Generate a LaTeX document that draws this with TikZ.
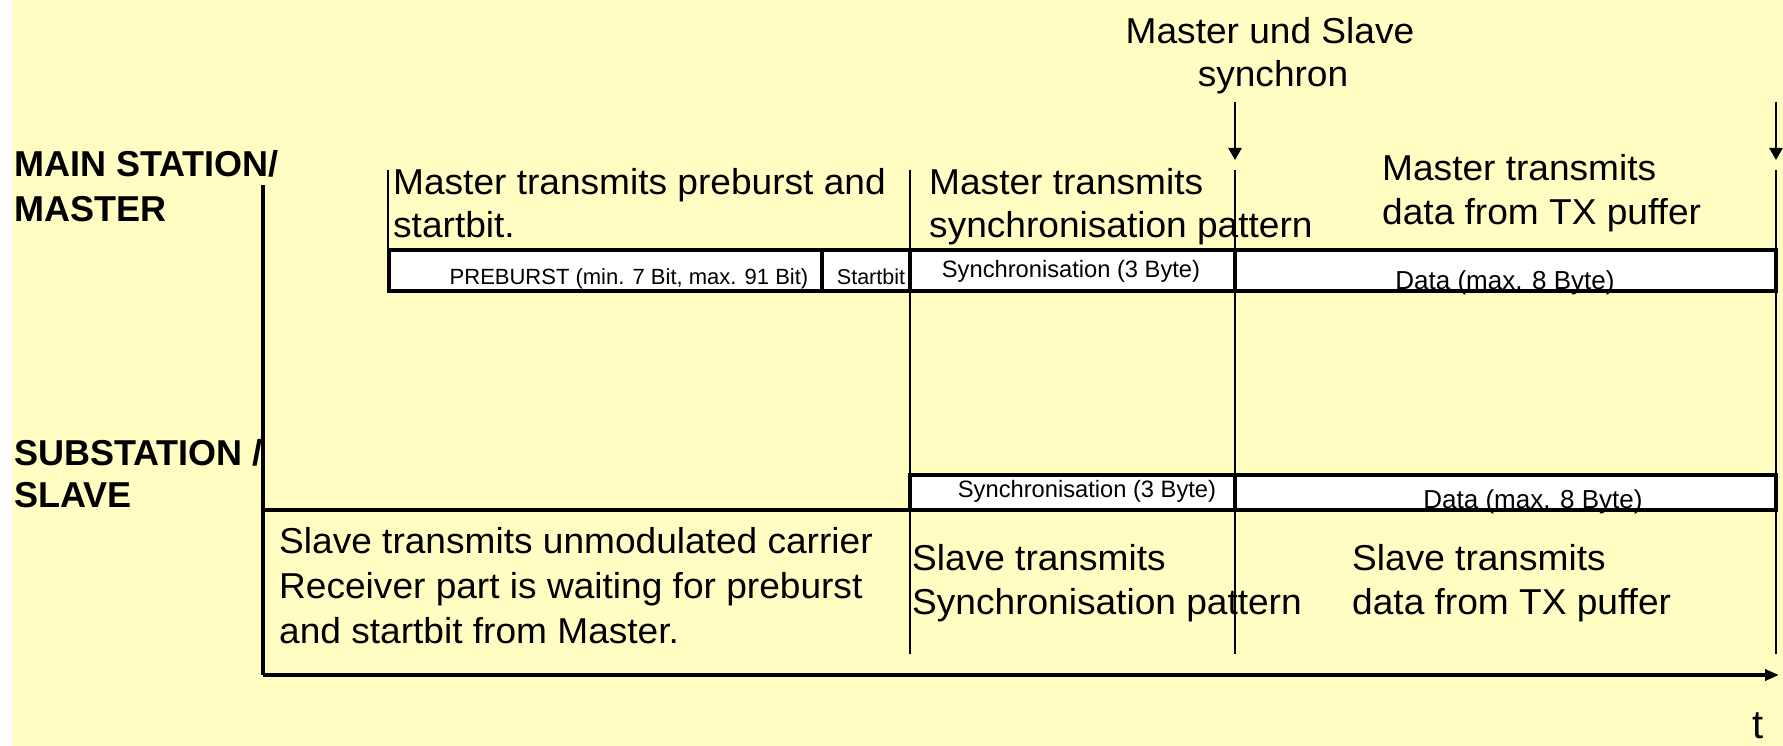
\documentclass[tikz,border=0pt]{standalone}
\usepackage{fontspec}
\setmainfont{Liberation Sans}
\newfontfamily\bigtext[FakeStretch=1.03]{Liberation Sans}
\usetikzlibrary{arrows.meta}
\definecolor{bgyellow}{RGB}{255,253,194}
\begin{document}
\begin{tikzpicture}[x=1pt,y=-1pt,
  heavy/.style={line width=4.5pt},
  light/.style={line width=2pt},
  fieldfill/.style={fill=white},
  fieldline/.style={draw=black, line width=4.5pt},
  bigtxt/.style={inner sep=0pt, anchor=base west, font=\bigtext\fontsize{36}{45}\selectfont},
  bigc/.style={inner sep=0pt, anchor=base, font=\bigtext\fontsize{36}{45}\selectfont},
  lab/.style={inner sep=0pt, anchor=base west, font=\fontsize{36}{45}\selectfont\bfseries},
  smalltxt/.style={inner sep=0pt, anchor=base, font=\fontsize{#1}{#1}\selectfont},
  downarrow/.style={line width=2.5pt, -{Triangle[length=12pt,width=13pt]}},
  axisarrow/.style={line width=4.5pt, -{Triangle[length=14pt,width=11pt]}}
]
\useasboundingbox (0,0) rectangle (1783,746);
\fill[white] (0,0) rectangle (1783,746);
\fill[bgyellow] (12,0) rectangle (1783,746);

% key coordinates
\coordinate (Ltop) at (263,185);
\coordinate (Lbot) at (263,675);
\coordinate (Aend) at (1779,675);
\coordinate (Smid) at (263,510);
\coordinate (Smidr) at (910,510);
\coordinate (Ptop) at (388,170);
\coordinate (Pbot) at (388,250);
\coordinate (Stop) at (910,170);
\coordinate (Sbot) at (910,654);
\coordinate (Dtop) at (1235,170);
\coordinate (Dbot) at (1235,654);
\coordinate (Etop) at (1776,170);
\coordinate (Ebot) at (1776,654);
\coordinate (A1s) at (1235,102);
\coordinate (A1e) at (1235,160);
\coordinate (A2s) at (1776,102);
\coordinate (A2e) at (1776,160);

% field fills
\fill[fieldfill] (389,250) rectangle (1776,291);
\fill[fieldfill] (910,475) rectangle (1776,510);

% small texts in fields
\node[smalltxt=22] (pre) at (629,284) {PREBURST (min. 7 Bit, max. 91 Bit)};
\node[smalltxt=21.5] (stb) at (871,284) {Startbit};
\node[smalltxt=23.7] (msy) at (1071,277) {Synchronisation (3 Byte)};
\node[smalltxt=26] (mda) at (1505,289) {Data (max. 8 Byte)};
\node[smalltxt=23.7] (ssy) at (1087,497) {Synchronisation (3 Byte)};
\node[smalltxt=26] (sda) at (1533,508) {Data (max. 8 Byte)};

% field borders
\draw[fieldline] (389,250) rectangle (822,291);
\draw[fieldline] (822,250) rectangle (910,291);
\draw[fieldline] (910,250) rectangle (1235,291);
\draw[fieldline] (1235,250) rectangle (1776,291);
\draw[fieldline] (910,475) rectangle (1235,510);
\draw[fieldline] (1235,475) rectangle (1776,510);

% time lines
\draw[heavy] (Ltop) -- (Lbot);
\draw[line width=3.5pt] (Smid) -- (Smidr);
\draw[axisarrow] (Lbot) -- (Aend);
\draw[light] (Ptop) -- (Pbot);
\draw[light] (Stop) -- (Sbot);
\draw[light] (Dtop) -- (Dbot);
\draw[light] (Etop) -- (Ebot);
\draw[downarrow] (A1s) -- (A1e);
\draw[downarrow] (A2s) -- (A2e);

% labels
\node[bigc] (sync1) at (1270,44) {Master und Slave};
\node[bigc] (sync2) at (1273,87) {synchron};

\node[lab] (ms1) at (14,177) {MAIN STATION/};
\node[lab] (ms2) at (14,222) {MASTER};
\node[lab] (ss1) at (14,465) {SUBSTATION /};
\node[lab] (ss2) at (14,507) {SLAVE};

\node[bigtxt] (mp1) at (393,195) {Master transmits preburst and};
\node[bigtxt] (mp2) at (393,238) {startbit.};
\node[bigtxt] (mq1) at (929,195) {Master transmits};
\node[bigtxt] (mq2) at (929,238) {synchronisation pattern};
\node[bigtxt] (mr1) at (1382,181) {Master transmits};
\node[bigtxt] (mr2) at (1382,225) {data from TX puffer};

\node[bigtxt] (sp1) at (279,553) {Slave transmits unmodulated carrier};
\node[bigtxt] (sp2) at (279,598) {Receiver part is waiting for preburst};
\node[bigtxt] (sp3) at (279,643) {and startbit from Master.};
\node[bigtxt] (sq1) at (912,570) {Slave transmits};
\node[bigtxt] (sq2) at (912,614) {Synchronisation pattern};
\node[bigtxt] (sr1) at (1352,570) {Slave transmits};
\node[bigtxt] (sr2) at (1352,614) {data from TX puffer};

\node[inner sep=0pt, anchor=base, font=\fontsize{40}{45}\selectfont] (tl) at (1758,738) {t};
\end{tikzpicture}
\end{document}
